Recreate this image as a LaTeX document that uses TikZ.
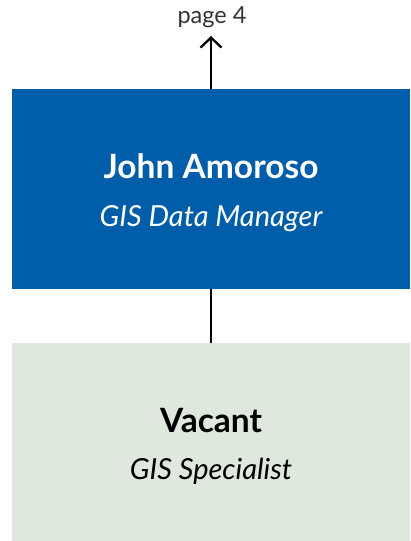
\documentclass[tikz,border=0pt]{standalone}
\usepackage{fontspec}
\setmainfont{Lato}
\usetikzlibrary{arrows.meta}
\definecolor{boxblue}{HTML}{005DAA}
\definecolor{boxgreen}{HTML}{DFE8DC}
\definecolor{labelgray}{HTML}{333333}
\tikzset{
  orgbox/.style={rectangle, draw=none, minimum width=398pt, inner sep=0pt},
  nametext/.style={font=\fontsize{33.5}{38}\selectfont\bfseries, inner sep=0pt, anchor=base},
  roletext/.style={font=\fontsize{29}{34}\selectfont\itshape, inner sep=0pt, anchor=base},
  conn/.style={line width=2.3pt, black}
}
\begin{document}
\begin{tikzpicture}[x=1pt,y=1pt]
\useasboundingbox (0,0) rectangle (410,-541);
\node[orgbox, fill=boxblue, minimum height=200pt] (mgr) at (211,-189) {};
\node[orgbox, fill=boxgreen, minimum height=198pt] (spec) at (211,-442) {};
\node[nametext, text=white] (mgrname) at (211,-178) {John Amoroso};
\node[roletext, text=white] (mgrrole) at (211,-226) {GIS Data Manager};
\node[nametext, text=black] (specname) at (211,-432) {Vacant};
\node[roletext, text=black] (specrole) at (211,-479) {GIS Specialist};
\node[font=\fontsize{23.5}{28}\selectfont, text=labelgray, inner sep=0pt, anchor=base] (pagelbl) at (212,-23) {page 4};
\coordinate (arrtip) at (211,-36);
\draw[conn, -{Straight Barb[length=10pt,width=21pt,line width=2.3pt]}] (mgr.north) -- (arrtip);
\draw[conn] (mgr.south) -- (spec.north);
\end{tikzpicture}
\end{document}
